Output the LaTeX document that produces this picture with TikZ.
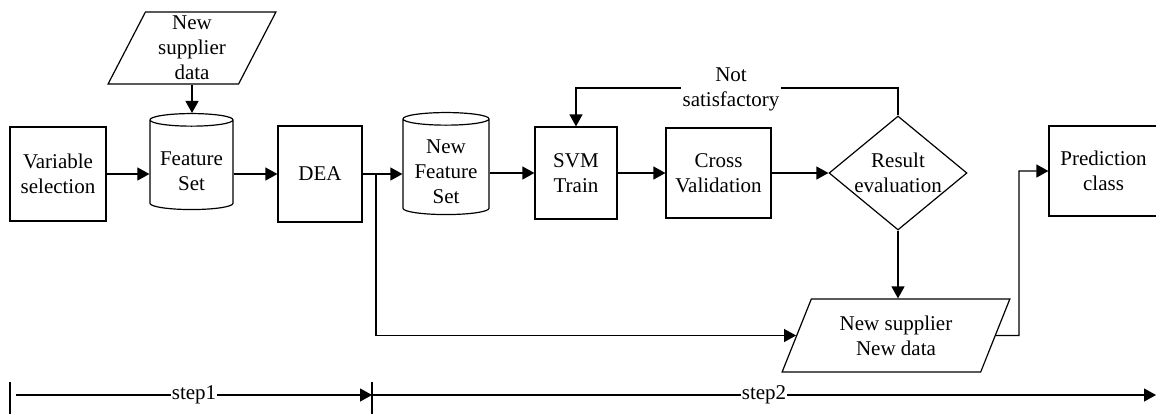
\documentclass[tikz,border=0pt]{standalone}
\usepackage{fontspec}
\setmainfont{Liberation Serif}
\usetikzlibrary{shapes.geometric}
\usetikzlibrary{arrows.meta}
\tikzstyle{proc_box}=[draw, rectangle, align=center, inner sep=0pt]
\tikzstyle{data_io}=[draw, trapezium, trapezium stretches=true, trapezium left angle=67, trapezium right angle=113, align=center, inner sep=0pt]
\tikzstyle{data_store}=[draw, cylinder, shape border rotate=90, aspect=0.2, align=center, inner sep=0pt]
\tikzstyle{decision}=[draw, diamond, aspect=1.21, align=center, inner sep=0.25pt]
\tikzstyle{flow_arrow}=[-{Triangle[length=6pt,width=6.5pt]}]

\begin{document}
\begin{tikzpicture}[x=0.5pt, y=-0.5pt, line width=0.6pt, font=\fontsize{10.5}{12.5}\selectfont]
\useasboundingbox (0,0) rectangle (1156,414);
\node[proc_box, minimum width=48pt, minimum height=47pt] (varsel) at (58,174) {Variable\\selection};
\node[data_store, minimum width=41.5pt, minimum height=48pt] (featset) at (191.5,165) {\rule{0pt}{13.5pt}Feature\\Set};
\node[data_io, minimum width=84pt, minimum height=36pt] (newsupp) at (192,48) {New\\supplier\\data};
\node[proc_box, minimum width=42pt, minimum height=48pt] (dea) at (320,174) {DEA};
\node[data_store, minimum width=43pt, minimum height=51pt] (newfeat) at (446,167) {\rule{0pt}{11.5pt}New\\Feature\\Set};
\node[proc_box, minimum width=41pt, minimum height=46pt] (svm) at (576,173) {SVM\\Train};
\node[proc_box, minimum width=52.5pt, minimum height=45pt] (cross) at (718.5,173) {Cross\\Validation};
\node[decision, minimum width=69pt, minimum height=57pt] (result) at (898,173) {Result\\evaluation};
\node[proc_box, minimum width=54.5pt, minimum height=45pt] (pred) at (1103.5,171) {Prediction\\class};
\node[data_io, trapezium left angle=64, trapezium right angle=116, minimum width=114pt, minimum height=36.5pt] (newdata) at (896,335.5) {New supplier\\New data};
\coordinate (split) at (376,174);
\coordinate (back) at (898,88);
\coordinate (turn) at (1019,335.5);
% main flow
\draw[flow_arrow] (newsupp.south) -- (newsupp.south |- featset.north);
\draw[flow_arrow] (varsel.east) -- (varsel.east -| featset.west);
\draw[flow_arrow] (featset.east |- dea.west) -- (dea.west);
\draw[flow_arrow] (dea.east) -- (dea.east -| newfeat.west);
\draw[flow_arrow] (split) |- (newdata.west);
\draw[flow_arrow] (newfeat.east |- svm.west) -- (svm.west);
\draw[flow_arrow] (svm) -- (cross);
\draw[flow_arrow] (cross) -- (result);
\draw[flow_arrow] (result.north) -- (back) -| (svm.north);
\node[fill=white, align=center, inner sep=1pt] (notsat) at (731,89) {Not\\satisfactory};
\draw[flow_arrow] (result.south) -- (result.south |- newdata.north);
\draw[flow_arrow] (newdata.east) -- (turn) |- (pred.west);
% steps
\coordinate (t0) at (16,395);
\coordinate (t1) at (372,395);
\coordinate (t2) at (1156,395);
\draw (10,382) -- (10,414);
\draw (372,382) -- (372,414);
\draw[flow_arrow] (t0) -- node[fill=white, inner sep=0.5pt] (step1) {step1} (t1);
\draw[flow_arrow] (t1) -- node[fill=white, inner sep=0.5pt] (step2) {step2} (t2);
\end{tikzpicture}
\end{document}
